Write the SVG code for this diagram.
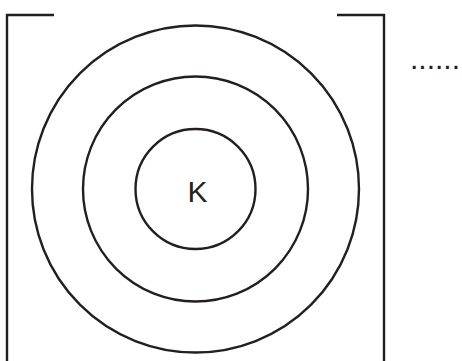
<svg xmlns="http://www.w3.org/2000/svg" width="462" height="361" viewBox="0 0 462 361">
<style>
.ln{fill:none;stroke:#231f20;stroke-width:2.4}
.t{font-family:"Liberation Sans",Arial,sans-serif;fill:#231f20}
</style>
<rect width="462" height="361" fill="#fff"/>
<g id="brackets">
<polyline class="ln" points="54,15 7,15 7,361"/>
<polyline class="ln" points="337,15 384,15 384,361"/>
</g>
<g id="outer"><circle class="ln" cx="195.5" cy="189" r="163.5"/></g>
<g id="middle"><circle class="ln" cx="195.5" cy="189" r="112.5"/></g>
<g id="inner"><circle class="ln" cx="195.5" cy="189" r="60"/><text class="t" x="197.5" y="202" font-size="30" text-anchor="middle">K</text></g>
<g id="dots"><text class="t" x="410" y="69" font-size="30">......</text></g>
</svg>
